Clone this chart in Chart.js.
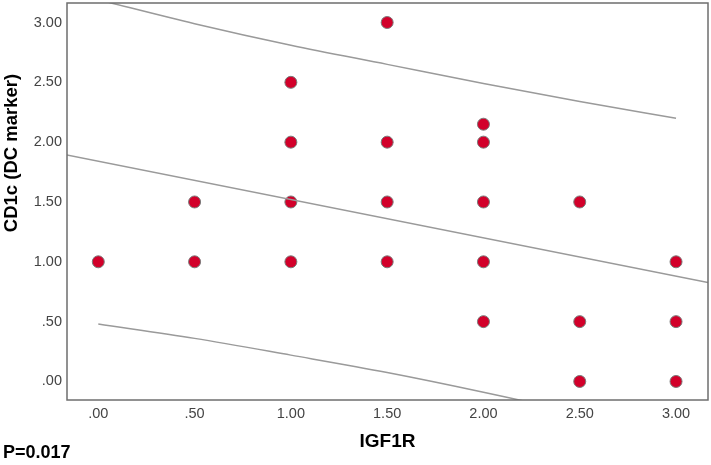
<!DOCTYPE html>
<html>
<head>
<meta charset="utf-8">
<script src="https://cdn.jsdelivr.net/npm/chart.js@4.4.1/dist/chart.umd.min.js"></script>
<style>
  html, body { margin: 0; padding: 0; background: #ffffff; }
  #wrap { width: 711px; height: 465px; }
</style>
</head>
<body>
<div id="wrap"><canvas id="scatter"></canvas></div>
<script>
// 散布図データ (IGF1R vs CD1c)
const IGF1R = [0.0, 0.5, 0.5, 1.0, 1.0, 1.0, 1.0, 1.5, 1.5, 1.5, 1.5, 2.0, 2.0, 2.0, 2.0, 2.0, 2.5, 2.5, 2.5, 3.0, 3.0, 3.0];
const CD1C  = [1.0, 1.5, 1.0, 2.5, 2.0, 1.5, 1.0, 3.0, 2.0, 1.5, 1.0, 2.15, 2.0, 1.5, 1.0, 0.5, 1.5, 0.5, 0.0, 1.0, 0.5, 0.0];

// 回帰直線 (読み取り値)
const FIT_X = [-0.165, 3.166];
const FIT_Y = [1.893, 0.826];

// 予測区間 上限・下限 (読み取り値)
const BAND_X     = [0.0, 0.5, 1.0, 1.5, 2.0, 2.5, 3.0];
const BAND_UPPER = [3.19, 2.99, 2.81, 2.65, 2.49, 2.34, 2.20];
const BAND_LOWER = [0.48, 0.36, 0.22, 0.075, -0.09, -0.27, -0.47];

const X_TITLE = "IGF1R";
const Y_TITLE = "CD1c (DC marker)";
const P_TEXT  = "P=0.017";

function toPoints(xs, ys) {
    let pts = [];
    for (let i = 0; i < xs.length; i++) {
        pts.push({x: xs[i], y: ys[i]});
    }
    return pts;
}

// ".50" / "1.00" 形式
function spssFormat(v) {
    let s = Math.abs(v).toFixed(2);
    if (s.charAt(0) === "0") s = s.substring(1);
    return s;
}

const GRAY_LINE = "#9a9a9a";

// 枠線・Y軸タイトル・P値
const framePlugin = {
    id: "frame",
    afterDraw: function(chart) {
        const ctx = chart.ctx;
        const a = chart.chartArea;
        ctx.save();
        ctx.strokeStyle = "#6e6e6e";
        ctx.lineWidth = 1.5;
        ctx.strokeRect(a.left, a.top, a.right - a.left, a.bottom - a.top);

        ctx.fillStyle = "#000000";
        ctx.font = "bold 18.5px 'Liberation Sans', Arial, sans-serif";
        ctx.textAlign = "center";
        ctx.textBaseline = "middle";
        ctx.translate(12, 153);
        ctx.rotate(-Math.PI / 2);
        ctx.fillText(Y_TITLE, 0, 0);
        ctx.restore();

        ctx.save();
        ctx.fillStyle = "#000000";
        ctx.font = "bold 18px 'Liberation Sans', Arial, sans-serif";
        ctx.textAlign = "left";
        ctx.textBaseline = "middle";
        ctx.fillText(P_TEXT, 3, 453);
        ctx.restore();
    }
};

const ctx = document.getElementById("scatter").getContext("2d");
new Chart(ctx, {
    type: "scatter",
    data: {
        datasets: [
            {
                label: "fit",
                type: "line",
                data: toPoints(FIT_X, FIT_Y),
                borderColor: GRAY_LINE,
                borderWidth: 1.5,
                pointRadius: 0,
                fill: false
            },
            {
                label: "upper",
                type: "line",
                data: toPoints(BAND_X, BAND_UPPER),
                borderColor: GRAY_LINE,
                borderWidth: 1.5,
                pointRadius: 0,
                cubicInterpolationMode: "monotone",
                fill: false
            },
            {
                label: "lower",
                type: "line",
                data: toPoints(BAND_X, BAND_LOWER),
                borderColor: GRAY_LINE,
                borderWidth: 1.5,
                pointRadius: 0,
                cubicInterpolationMode: "monotone",
                fill: false
            },
            {
                label: "CD1c",
                data: toPoints(IGF1R, CD1C),
                backgroundColor: "#d2002a",
                borderColor: "#7a7a7a",
                borderWidth: 1,
                pointRadius: 6,
                pointHoverRadius: 6
            }
        ]
    },
    options: {
        responsive: true,
        maintainAspectRatio: false,
        animation: false,
        layout: { autoPadding: false, padding: { top: 3, right: 3, left: 0, bottom: 0 } },
        plugins: {
            legend: { display: false },
            tooltip: { enabled: false }
        },
        scales: {
            x: {
                type: "linear",
                min: -0.1625,
                max: 3.166,
                grid: { display: false, drawTicks: false },
                border: { display: false },
                ticks: {
                    stepSize: 0.5,
                    includeBounds: false,
                    padding: 5,
                    color: "#444444",
                    font: { family: "'Liberation Sans', Arial, sans-serif", size: 14.5 },
                    callback: function(v) { return spssFormat(v); }
                },
                title: {
                    display: true,
                    text: X_TITLE,
                    color: "#000000",
                    font: { family: "'Liberation Sans', Arial, sans-serif", size: 19, weight: "bold" },
                    padding: { top: 0, bottom: 12 }
                },
                afterFit: function(scale) {
                    scale.height = 65;
                    scale.paddingLeft = 0;
                    scale.paddingRight = 0;
                }
            },
            y: {
                type: "linear",
                min: -0.155,
                max: 3.163,
                grid: { display: false, drawTicks: false },
                border: { display: false },
                ticks: {
                    stepSize: 0.5,
                    includeBounds: false,
                    padding: 5,
                    color: "#444444",
                    font: { family: "'Liberation Sans', Arial, sans-serif", size: 14.5 },
                    callback: function(v) { return spssFormat(v); }
                },
                afterFit: function(scale) {
                    scale.width = 67;
                    scale.paddingTop = 0;
                    scale.paddingBottom = 0;
                }
            }
        }
    },
    plugins: [framePlugin]
});
</script>
</body>
</html>
